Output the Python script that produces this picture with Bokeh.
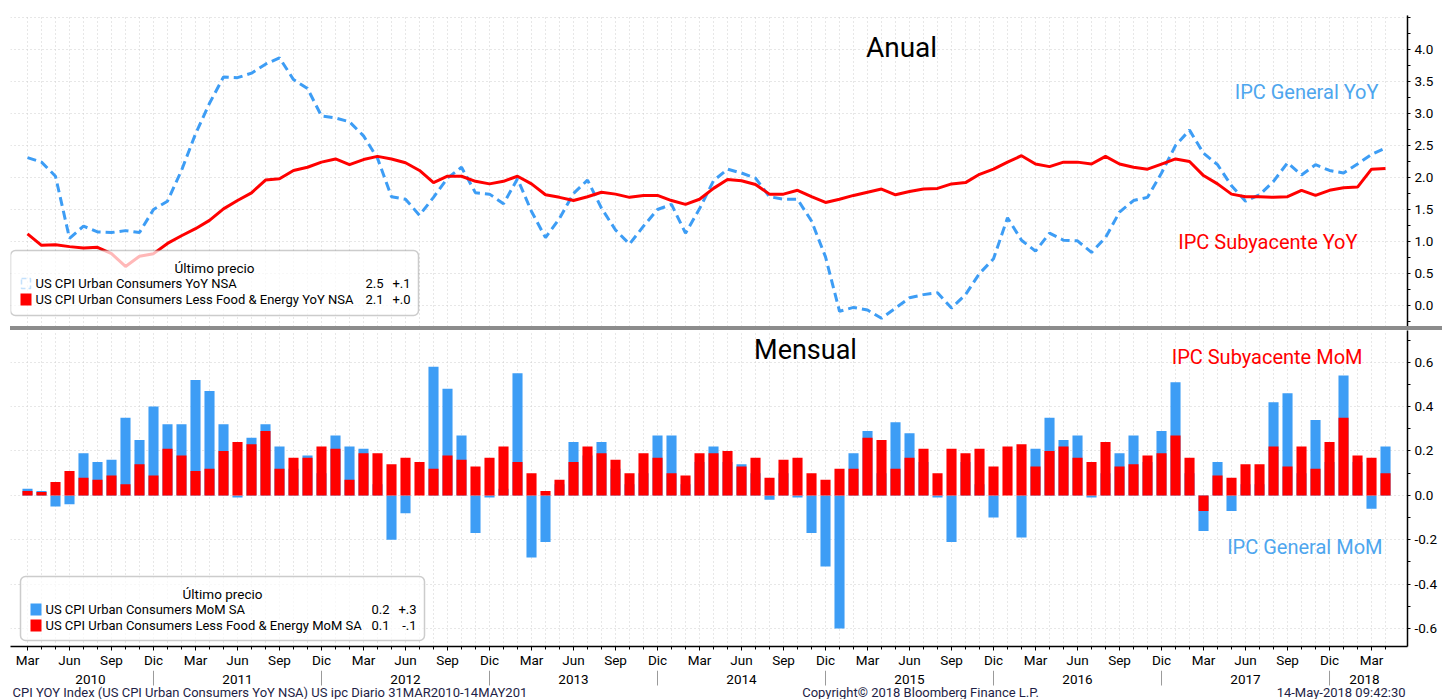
import numpy as np
import pandas as pd
from bokeh.plotting import figure
from bokeh.models import (ColumnDataSource, LinearAxis, FixedTicker, PrintfTickFormatter,
                          Grid, Label, BoxAnnotation, PolyAnnotation, Div, Range1d)
from bokeh.core.properties import value
from bokeh.layouts import column
from bokeh.embed import file_html
from bokeh.resources import INLINE

# ---------------- data (Mar 2010 .. Apr 2018, monthly) ----------------
dates = pd.date_range("2010-03-01", periods=98, freq="MS")

cpi_yoy = [2.31, 2.24, 2.02, 1.05, 1.24, 1.15, 1.14, 1.17, 1.14, 1.50,
           1.63, 2.11, 2.68, 3.16, 3.57, 3.56, 3.63, 3.77, 3.87, 3.53, 3.39, 2.96,
           2.93, 2.87, 2.65, 2.30, 1.70, 1.66, 1.41, 1.69, 1.99, 2.16, 1.76, 1.74,
           1.59, 1.98, 1.47, 1.06, 1.36, 1.75, 1.96, 1.52, 1.18, 0.96, 1.24, 1.50,
           1.58, 1.13, 1.51, 1.95, 2.13, 2.07, 1.99, 1.70, 1.66, 1.66, 1.32, 0.76,
           -0.09, -0.03, -0.07, -0.20, -0.04, 0.12, 0.17, 0.20, -0.04, 0.17, 0.50, 0.73,
           1.37, 1.02, 0.85, 1.13, 1.02, 1.01, 0.83, 1.06, 1.46, 1.64, 1.69, 2.07,
           2.50, 2.74, 2.38, 2.20, 1.87, 1.63, 1.73, 1.94, 2.23, 2.04, 2.20, 2.11,
           2.07, 2.21, 2.36, 2.46]

core_yoy = [1.12, 0.94, 0.95, 0.92, 0.90, 0.91, 0.81, 0.61, 0.77, 0.81,
            0.97, 1.09, 1.20, 1.33, 1.51, 1.64, 1.76, 1.96, 1.98, 2.11, 2.16, 2.24,
            2.29, 2.20, 2.28, 2.33, 2.29, 2.23, 2.11, 1.92, 2.02, 2.02, 1.94, 1.90,
            1.94, 2.02, 1.90, 1.73, 1.69, 1.64, 1.70, 1.77, 1.74, 1.69, 1.72, 1.72,
            1.64, 1.58, 1.66, 1.83, 1.97, 1.95, 1.89, 1.74, 1.74, 1.80, 1.70, 1.61,
            1.66, 1.72, 1.77, 1.82, 1.73, 1.78, 1.82, 1.83, 1.90, 1.92, 2.05, 2.13,
            2.24, 2.34, 2.21, 2.17, 2.24, 2.24, 2.21, 2.33, 2.21, 2.16, 2.13, 2.21,
            2.29, 2.25, 2.03, 1.90, 1.74, 1.70, 1.70, 1.69, 1.70, 1.80, 1.72, 1.80,
            1.84, 1.85, 2.13, 2.14]

cpi_mom = [0.03, 0.02, -0.05, -0.04, 0.19, 0.15, 0.16, 0.35, 0.25, 0.40,
           0.32, 0.32, 0.52, 0.47, 0.32, -0.01, 0.26, 0.32, 0.22, 0.12, 0.18, 0.10,
           0.27, 0.22, 0.21, 0.05, -0.20, -0.08, 0.00, 0.58, 0.48, 0.27, -0.17, -0.01,
           0.03, 0.55, -0.28, -0.21, 0.05, 0.24, 0.18, 0.24, 0.12, 0.05, 0.10, 0.27,
           0.27, 0.05, 0.15, 0.22, 0.15, 0.14, 0.10, -0.02, 0.10, -0.01, -0.17, -0.32,
           -0.60, 0.19, 0.29, 0.10, 0.33, 0.28, 0.15, -0.01, -0.21, 0.15, 0.05, -0.10,
           0.00, -0.19, 0.21, 0.35, 0.25, 0.27, -0.01, 0.10, 0.19, 0.27, 0.15, 0.29,
           0.51, 0.10, -0.16, 0.15, -0.07, 0.05, 0.05, 0.42, 0.46, 0.10, 0.34, 0.15,
           0.54, 0.15, -0.06, 0.22]

core_mom = [0.02, 0.015, 0.06, 0.11, 0.08, 0.07, 0.09, 0.05, 0.14, 0.09,
            0.21, 0.18, 0.11, 0.12, 0.20, 0.24, 0.23, 0.29, 0.12, 0.17, 0.17, 0.22,
            0.21, 0.07, 0.19, 0.19, 0.14, 0.17, 0.15, 0.12, 0.18, 0.16, 0.13, 0.17,
            0.22, 0.15, 0.10, 0.02, 0.07, 0.15, 0.22, 0.19, 0.16, 0.10, 0.19, 0.17,
            0.10, 0.09, 0.19, 0.19, 0.20, 0.13, 0.17, 0.08, 0.16, 0.17, 0.10, 0.07,
            0.12, 0.12, 0.26, 0.25, 0.12, 0.17, 0.21, 0.10, 0.21, 0.19, 0.21, 0.13,
            0.22, 0.23, 0.13, 0.20, 0.22, 0.17, 0.15, 0.24, 0.13, 0.14, 0.18, 0.19,
            0.27, 0.17, -0.07, 0.09, 0.08, 0.14, 0.14, 0.22, 0.13, 0.22, 0.12, 0.24,
            0.35, 0.18, 0.17, 0.10]

month_names = ["Ene", "Feb", "Mar", "Abr", "May", "Jun", "Jul", "Ago", "Sep", "Oct", "Nov", "Dic"]
yoy_ticks = [0.0, 0.5, 1.0, 1.5, 2.0, 2.5, 3.0, 3.5, 4.0]
yoy_marks = yoy_ticks + [4.5]
mom_ticks = [-0.6, -0.4, -0.2, 0.0, 0.2, 0.4, 0.6]

legend_top = [("US CPI Urban Consumers YoY NSA", "2.5", "+.1"),
              ("US CPI Urban Consumers Less Food & Energy YoY NSA", "2.1", "+.0")]
legend_bot = [("US CPI Urban Consumers MoM SA", "0.2", "+.3"),
              ("US CPI Urban Consumers Less Food & Energy MoM SA", "0.1", "-.1")]
flag_top = ["2.5", "2.1"]
flag_bot = ["0.2", "0.1"]

footer_left = "CPI YOY Index (US CPI Urban Consumers YoY NSA) US ipc  Diario 31MAR2010-14MAY201"
footer_mid = "Copyright\u00a9 2018 Bloomberg Finance L.P."
footer_right = "14-May-2018 09:42:30"

# ---------------- derived ticks ----------------
x = np.arange(len(dates))
months = dates.month.values
years = dates.year.values
q_ticks = [int(i) for i in x if months[i] in (3, 6, 9, 12)]
q_labels = {int(i): month_names[months[i] - 1] for i in q_ticks}
dec_idx = [int(i) for i in x if months[i] == 12]
year_pos, year_txt = [], []
for yv in sorted(set(years)):
    idx = x[years == yv]
    if len(idx) == 12:
        pos = float(idx[months[idx] == 6][0])
    else:
        pos = float(idx.mean())
    year_pos.append(pos)
    year_txt.append(str(yv))

# ---------------- styling / layout ----------------
BLUE = "#3d9df5"
RED = "#ff0000"
TXT_BLUE = "#4ea6ee"
FOOT = "#1e1e46"
FONT = "Roboto"
W = 1442
ML = 10
FW = 1397
MR = W - ML - FW
TOP_H, TOP_MT = 326, 15
BOT_FH, BOT_MB = 318, 22
BOT_H = BOT_FH + BOT_MB
STRIP_H = 700 - TOP_H - 4 - BOT_H - 1
xr = Range1d(-1.214, 98.57)
yr_top = Range1d(-0.328, 4.531)
yr_bot = Range1d(-0.681, 0.743)


def style_fig(p):
    p.outline_line_color = None
    p.background_fill_color = "white"
    p.border_fill_color = "white"
    p.grid.visible = False


def style_yaxis(ax, ticks, minor):
    ax.ticker = FixedTicker(ticks=ticks, minor_ticks=minor)
    ax.formatter = PrintfTickFormatter(format="%.1f")
    ax.axis_line_color = "black"
    ax.axis_line_width = 1.5
    ax.major_tick_in = 0
    ax.major_tick_out = 6
    ax.major_tick_line_color = None
    ax.minor_tick_in = 0
    ax.minor_tick_out = 3
    ax.major_label_standoff = 1
    ax.major_label_text_font = FONT
    ax.major_label_text_font_size = "13.5px"
    ax.major_label_text_color = "black"


def tick_marks(p, vals, px_per_unit):
    h = 3.5 / px_per_unit
    for v in vals:
        p.add_layout(PolyAnnotation(xs=[FW, FW + 7, FW], ys=[v + h, v, v - h],
                                    xs_units="screen", ys_units="data",
                                    fill_color="black", fill_alpha=1.0, line_color="black",
                                    line_width=0.5))


def add_grids(p, yticks):
    p.add_layout(Grid(dimension=0, ticker=FixedTicker(ticks=[int(i) for i in x]),
                      grid_line_color="#cfcfcf", grid_line_dash="1 3", grid_line_width=1))
    p.add_layout(Grid(dimension=1, ticker=FixedTicker(ticks=yticks),
                      grid_line_color="#cfcfcf", grid_line_dash="1 3", grid_line_width=1))


def txt(p, sx, sy, s, size, color, align="left", baseline="middle", yunits="screen"):
    p.add_layout(Label(x=sx, y=sy, x_units="screen", y_units=yunits, text=s,
                       text_font=FONT, text_font_size=size, text_color=color,
                       text_align=align, text_baseline=baseline))


def flag(p, v, px_per_unit, fill, edge, s, tcolor):
    h = 7.5 / px_per_unit
    p.add_layout(PolyAnnotation(xs=[FW + 1, FW + 8, FW + 50, FW + 50, FW + 8],
                                ys=[v, v + h, v + h, v - h, v - h],
                                xs_units="screen", ys_units="data",
                                fill_color=fill, fill_alpha=1.0, line_color=edge, line_width=1))
    txt(p, FW + 10, v, s, "14.5px", tcolor, yunits="data")


def legend(p, left, bottom, w, h, title, rows, kinds):
    p.add_layout(BoxAnnotation(left=left, right=left + w, bottom=bottom, top=bottom + h,
                               left_units="screen", right_units="screen",
                               top_units="screen", bottom_units="screen",
                               fill_color="white", fill_alpha=0.72,
                               line_color="#555555", line_width=1.5, border_radius=5))
    txt(p, left + w / 2, bottom + h - 17, title, "13.5px", "black", align="center")
    for k, ((name, val, chg), kind) in enumerate(zip(rows, kinds)):
        cy = bottom + h - 33 - 16 * k
        if kind == "dash":
            p.add_layout(BoxAnnotation(left=left + 11, right=left + 20, bottom=cy - 5, top=cy + 5,
                                       left_units="screen", right_units="screen",
                                       top_units="screen", bottom_units="screen",
                                       fill_color=None, line_color=BLUE, line_width=1.5,
                                       line_dash="5 3"))
        else:
            p.add_layout(BoxAnnotation(left=left + 10, right=left + 21, bottom=cy - 6, top=cy + 6,
                                       left_units="screen", right_units="screen",
                                       top_units="screen", bottom_units="screen",
                                       fill_color=kind, fill_alpha=1.0, line_color=None))
        txt(p, left + 25, cy, name, "13px", "black")
        txt(p, left + w - 35, cy, val, "13px", "black", align="right")
        txt(p, left + w - 8, cy, chg, "13px", "black", align="right")


# ---------------- top panel: Anual ----------------
top = figure(width=W, height=TOP_H, x_range=xr, y_range=yr_top, output_backend="svg",
             toolbar_location=None, x_axis_location=None, y_axis_location="right",
             min_border_left=ML, min_border_right=MR, min_border_top=TOP_MT, min_border_bottom=0)
style_fig(top)
style_yaxis(top.yaxis[0], yoy_ticks, [v / 4 for v in range(-1, 19)])
add_grids(top, [v / 2 for v in range(-1, 10)])

src_top = ColumnDataSource(dict(x=x, cpi=cpi_yoy, core=core_yoy))
top.line("x", "cpi", source=src_top, line_color=BLUE, line_width=3, line_dash="9 5")
top.line("x", "core", source=src_top, line_color=RED, line_width=3)

px_top = (TOP_H - TOP_MT) / (yr_top.end - yr_top.start)
tick_marks(top, yoy_marks, px_top)
flag(top, cpi_yoy[-1], px_top, BLUE, "#1f4f82", flag_top[0], "#0b1630")
flag(top, core_yoy[-1], px_top, RED, "#7a0000", flag_top[1], "white")

txt(top, 891, 279, "Anual", "28px", "black", align="center")
txt(top, 1368, 235, "IPC General YoY", "20px", TXT_BLUE, align="right")
txt(top, 1347, 85, "IPC Subyacente YoY", "20px", RED, align="right")
legend(top, 0, 11, 408, 65, "\u00daltimo precio", legend_top, ["dash", RED])

# ---------------- separator ----------------
sep = Div(text="", width=W - ML, height=4, margin=(0, 0, 0, ML),
          styles={"background-color": "#8c8c8c"})

# ---------------- bottom panel: Mensual ----------------
bot = figure(width=W, height=BOT_H, x_range=xr, y_range=yr_bot, output_backend="svg",
             toolbar_location=None, x_axis_location=None, y_axis_location="right",
             min_border_left=ML, min_border_right=MR, min_border_top=0, min_border_bottom=BOT_MB)
style_fig(bot)
style_yaxis(bot.yaxis[0], mom_ticks, [v / 10 for v in range(-6, 8)])
add_grids(bot, mom_ticks)

src_bot = ColumnDataSource(dict(x=x, cpi=cpi_mom, core=core_mom))
bot.vbar(x="x", top="cpi", bottom=0, width=0.72, source=src_bot, fill_color=BLUE, line_color=None)
bot.vbar(x="x", top="core", bottom=0, width=0.72, source=src_bot, fill_color=RED, line_color=None)

month_axis = LinearAxis(ticker=FixedTicker(ticks=q_ticks, minor_ticks=[int(i) for i in x]),
                        major_label_overrides=q_labels)
month_axis.axis_line_color = "black"
month_axis.axis_line_width = 1.5
month_axis.major_tick_in = 0
month_axis.major_tick_out = 4
month_axis.minor_tick_in = 0
month_axis.minor_tick_out = 3
month_axis.major_label_standoff = 1
month_axis.major_label_text_font = FONT
month_axis.major_label_text_font_size = "13.5px"
month_axis.major_label_text_color = "black"
bot.add_layout(month_axis, "below")

px_bot = BOT_FH / (yr_bot.end - yr_bot.start)
tick_marks(bot, mom_ticks, px_bot)
flag(bot, cpi_mom[-1], px_bot, BLUE, "#1f4f82", flag_bot[0], "#0b1630")
flag(bot, core_mom[-1], px_bot, RED, "#7a0000", flag_bot[1], "white")

txt(bot, 795, 297, "Mensual", "27px", "black", align="center")
txt(bot, 1352, 290, "IPC Subyacente MoM", "20px", RED, align="right")
txt(bot, 1372, 100, "IPC General MoM", "20px", TXT_BLUE, align="right")
legend(bot, 10, 6, 404, 64, "\u00daltimo precio", legend_bot, [BLUE, RED])

# ---------------- strip: years + footer ----------------
strip = figure(width=W, height=STRIP_H, x_range=xr, y_range=Range1d(0, STRIP_H),
               output_backend="svg", toolbar_location=None,
               x_axis_location=None, y_axis_location=None,
               min_border_left=ML, min_border_right=MR, min_border_top=0, min_border_bottom=0)
style_fig(strip)
ysrc = ColumnDataSource(dict(x=year_pos, t=year_txt))
strip.text(x="x", y=STRIP_H - 9, text="t", source=ysrc, text_align="center",
           text_baseline="middle", text_font=value(FONT), text_font_size="13.5px",
           text_color="black")
strip.segment(x0=dec_idx, x1=dec_idx, y0=STRIP_H, y1=STRIP_H - 15,
              line_color="#9a9a9a", line_width=1)
txt(strip, 2, 7, footer_left, "13px", FOOT, yunits="data")
txt(strip, 910, 7, footer_mid, "13px", FOOT, align="center", yunits="data")
txt(strip, FW - 2, 7, footer_right, "13px", FOOT, align="right", yunits="data")

layout = column(top, sep, bot, strip, spacing=0)
open("out.html", "w").write(file_html(layout, INLINE))
